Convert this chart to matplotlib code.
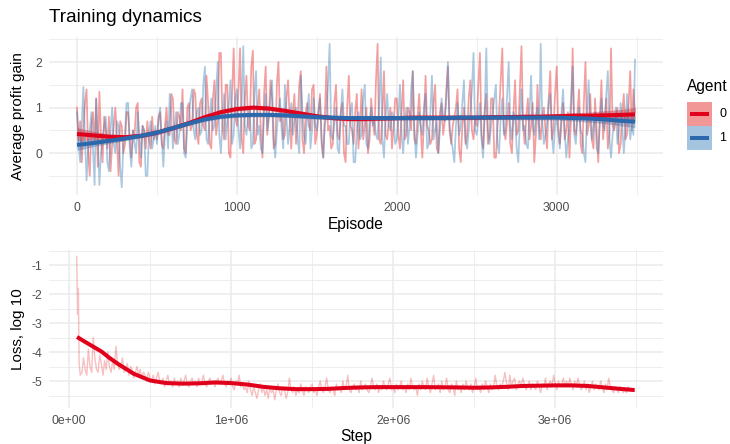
import numpy as np
import matplotlib
matplotlib.use("Agg")
import matplotlib.pyplot as plt
from matplotlib.patches import Rectangle

plt.rcParams["font.family"] = ["Liberation Sans", "DejaVu Sans"]

# ---- top panel: average profit gain, one value every 10 episodes
agent0 = [
    1.0, 0.3, 0.7, -0.2, 0.5, 1.1, 1.4, 0.0, -0.5, 0.6, 0.9, 0.2, 1.2, -0.3, 1.35, 0.4, -0.2, 0.8, 0.5, 0.1,
    0.8, -0.4, 0.2, 0.6, 1.0, 0.3, -0.5, 0.7, 0.6, 0.0, 0.2, 0.9, 0.9, 0.3, -0.1, 0.5, 0.4, 1.0, 1.1, -0.2,
    -0.3, 0.6, 0.5, 0.1, 0.7, 0.3, 0.1, 0.8, 0.3, 0.5,
    0.3, 0.8, 0.9, 0.2, 0.1, 0.6, 1.0, 0.4, 0.4, 1.3, 1.2, 0.3, 0.2, 0.9, 0.8, 0.5, 1.4, 0.1, 0.0, 1.0,
    1.1, 0.5, 0.6, 1.4, 1.3, 0.4, 0.2, 1.1, 1.2, 0.6, 0.5, 1.7, 1.1, 0.2, 0.1, 1.2, 1.6, 0.4, 0.7, 2.2,
    2.2, 0.6, 0.3, 1.5, 1.5, 0.0, -0.1, 1.3, 2.3, 0.8,
    0.6, 1.4, 2.3, 0.3, 0.0, 1.2, 1.7, 0.6, 0.5, 1.9, 2.25, 0.2, 0.3, 1.0, 1.4, 0.5, -0.1, 1.3, 1.9, 0.4,
    0.8, 1.6, 1.2, 0.1, 0.2, 1.5, 2.0, 0.7, 0.9, 0.3, 0.4, 1.2, 1.6, 0.8, 0.1, 0.9, 1.3, 0.2, 0.7, 1.5,
    1.8, 0.3, 0.0, 0.9, 1.1, 0.6, 0.5, 1.4, 1.5, 0.2,
    0.4, 0.9, 1.3, 0.2, -0.1, 0.8, 1.9, 0.5, 0.6, 0.1, 0.2, 1.1, 1.5, 0.4, 0.3, 0.9, 1.1, 0.0, -0.2, 1.0,
    1.7, 0.6, 0.5, 0.2, 0.9, 1.3, 0.1, 0.6, 1.4, 0.3, 0.6, 1.0, 0.0, 0.3, 1.2, 0.7, 0.4, 1.6, 2.4, 0.3,
    0.2, 0.9, 1.8, 0.4, 0.3, 0.7, 1.0, 0.1, 0.6, 1.2,
    1.2, 0.4, 0.1, 0.9, 1.6, 0.3, 0.4, 1.0, 0.9, 0.5, 1.8, 0.3, 0.2, 0.8, 1.3, 0.5, -0.1, 0.7, 1.7, 0.6,
    0.5, 0.2, 0.3, 1.1, 1.5, 0.1, 0.0, 0.9, 1.1, 0.4, 0.7, 1.4, 1.9, 0.5, 0.2, 0.6, 0.8, 1.0, 1.4, 0.1,
    -0.2, 0.6, 1.0, 0.2, 0.4, 1.2, 1.6, 0.5, 0.3, 0.8,
    0.6, 1.5, 2.2, 0.4, 0.1, 0.9, 1.3, 0.2, 0.4, 1.2, 1.2, -0.1, -0.1, 0.6, 0.9, 1.6, 2.3, 0.5, 0.3, 0.7,
    1.1, 0.2, 0.0, 0.9, 1.6, 0.4, 0.5, 1.4, 2.35, 0.6, 0.2, 0.8, 1.2, 0.3, 0.6, 1.1, -0.2, 0.4, 1.5, 0.6,
    0.3, 0.8, 1.0, 0.5, 0.1, 1.2, 1.8, 0.3, 0.5, 1.3,
    1.9, 0.6, 0.2, 0.7, 1.1, 0.3, 0.5, 0.9, -0.1, 0.8, 2.3, 0.5, 0.4, 0.9, 1.4, 0.2, 0.0, 1.1, 2.0, 0.4,
    0.6, 1.3, 0.3, 0.1, 1.2, 0.5, -0.2, 0.8, 1.6, 0.3, 0.7, 1.2, 0.1, 0.4, 2.3, 0.6, 0.5, 0.8, 1.0, 0.0,
    0.2, 0.9, 1.3, 0.3, 0.4, 1.1, 1.8, 0.5, 1.4, 0.9]
agent1 = [
    0.9, 0.2, -0.2, 0.6, 1.45, 0.3, -0.6, 0.1, 0.5, 0.9, 0.1, -0.7, 1.2, 0.4, -0.7, 0.0, 0.3, 0.6, 0.8, -0.2,
    -0.4, 0.5, 1.0, 0.2, 0.0, 0.7, 0.6, -0.3, -0.75, 0.2, 0.4, 1.1, 1.1, 0.1, -0.3, 0.5, 0.2, 0.0, 0.9, 0.4,
    -0.1, 0.6, 0.5, -0.5, -0.5, 0.4, 0.7, 0.1, 0.3, 0.6,
    0.2, 0.7, 1.0, 0.3, -0.3, 0.4, 0.7, 0.1, 1.3, 0.8, 0.1, 0.5, 0.9, 0.2, 0.4, 1.1, 1.1, 0.0, -0.1, 0.6,
    0.8, 1.2, 1.4, 0.5, 0.3, 0.9, 1.0, 0.4, 0.5, 1.5, 1.9, 0.3, 0.2, 0.8, 1.2, 0.5, 0.6, 1.3, 2.0, 0.4,
    0.0, 0.7, 1.3, 0.3, 0.7, 1.1, 1.6, 0.2, 0.4, 1.2,
    1.4, 0.5, 0.1, 1.1, 2.35, 0.6, 0.4, 0.8, 1.0, 0.1, 0.2, 1.3, 1.8, 0.4, 0.6, 0.1, 0.0, 0.9, 1.3, 0.5,
    0.8, 1.2, 1.6, 0.3, -0.1, 0.5, 0.9, 1.2, 0.5, 0.1, 1.5, 0.8, 0.2, 0.6, 1.1, 0.4, 0.7, 1.0, 0.3, 0.0,
    1.7, 0.9, 0.4, 0.2, 0.9, 1.3, 0.1, 0.5, 1.2, 0.6,
    0.5, 0.9, 1.2, 0.3, -0.1, 0.6, 0.8, 1.5, 2.4, 0.4, 0.3, 0.7, 1.0, 0.1, 0.0, 0.9, 1.4, 0.6, 0.6, 0.2,
    0.2, 0.9, 1.1, -0.2, -0.2, 0.5, 0.9, 0.3, 0.4, 1.2, 1.5, 0.2, 0.1, 0.7, 1.0, 0.6, 0.7, 0.4, 0.3, 1.1,
    2.1, 0.3, -0.1, 0.8, 1.3, 0.6, 0.5, 0.9, 0.8, 0.2,
    0.3, 0.8, 1.5, 0.4, 0.0, 0.6, 1.0, 0.2, 0.6, 1.4, 1.8, 0.5, -0.1, 0.4, 0.9, 0.6, 0.4, 1.0, 1.3, 0.1,
    0.2, 0.9, 1.7, 0.3, 0.5, 0.7, 0.0, 0.5, 1.2, 0.8, 0.7, 1.2, 2.0, 0.6, 0.3, 0.1, -0.2, 0.6, 1.1, 0.4,
    0.6, 1.1, 1.6, 0.3, 0.1, 0.5, 0.9, 1.4, 2.2, 0.5,
    0.4, 0.7, 1.1, 0.3, -0.1, 0.9, 2.3, 0.5, 0.2, 0.6, 0.9, 1.2, 1.5, 0.2, 0.0, 0.8, 1.2, 0.4, 0.5, 1.3,
    2.0, 0.6, 0.3, 0.9, 0.8, 0.1, -0.2, 0.7, 1.4, 0.5, 0.6, 0.2, 0.1, 0.9, 1.7, 0.6, 0.4, 0.8, 1.0, 0.3,
    2.4, 0.7, 0.2, 0.4, 0.7, 1.1, 1.3, 0.4, 0.0, 0.6,
    0.8, 0.4, 0.1, 0.9, 1.4, 0.5, -0.1, 0.3, 0.6, 1.2, 1.9, 0.4, 0.2, 0.8, 1.0, 0.5, 0.4, 0.0, -0.2, 0.9,
    1.6, 0.7, 0.3, 0.6, 0.9, 0.1, 0.0, 0.7, 1.2, 0.6, 0.5, 1.3, 1.8, 0.3, -0.1, 0.4, 0.7, 1.0, 0.2, 0.5,
    1.1, 0.6, 0.0, 0.5, 1.3, 0.8, 0.3, 0.6, 0.4, 2.05]
episodes = 10 * np.arange(len(agent0))

# smoothed trend and half width of its band
smooth_ep = list(range(0, 3500, 100)) + [3490]
smooth0 = [0.42, 0.39, 0.36, 0.35, 0.38, 0.45, 0.55, 0.66, 0.79, 0.90, 0.97, 1.00, 0.98, 0.93, 0.87, 0.81, 0.77, 0.75,
           0.75, 0.76, 0.77, 0.78, 0.78, 0.78, 0.78, 0.78, 0.79, 0.79, 0.80, 0.80, 0.81, 0.82, 0.82, 0.83, 0.84, 0.85]
smooth1 = [0.18, 0.22, 0.27, 0.32, 0.38, 0.45, 0.55, 0.65, 0.74, 0.80, 0.83, 0.84, 0.84, 0.83, 0.81, 0.79, 0.78, 0.77,
           0.77, 0.77, 0.77, 0.77, 0.77, 0.77, 0.78, 0.78, 0.78, 0.78, 0.78, 0.78, 0.78, 0.77, 0.76, 0.74, 0.71, 0.69]
se0 = [0.14, 0.09, 0.06, 0.05, 0.045, 0.045, 0.045, 0.045, 0.045, 0.045, 0.045, 0.045, 0.045, 0.045, 0.045, 0.045, 0.045, 0.045,
       0.045, 0.045, 0.045, 0.045, 0.045, 0.045, 0.045, 0.045, 0.045, 0.045, 0.05, 0.05, 0.055, 0.065, 0.08, 0.1, 0.12, 0.15]
se1 = [0.12, 0.08, 0.06, 0.05, 0.045, 0.045, 0.045, 0.045, 0.045, 0.045, 0.045, 0.045, 0.045, 0.045, 0.045, 0.045, 0.045, 0.045,
       0.045, 0.045, 0.045, 0.045, 0.045, 0.045, 0.045, 0.045, 0.045, 0.045, 0.05, 0.05, 0.055, 0.065, 0.08, 0.09, 0.11, 0.13]

# ---- bottom panel: log10 loss (first few logged every 5000 steps, then every 10000)
loss_head = [-0.7, -2.7, -1.8, -4.4]
loss_tail = [
    -4.8, -4.7, -4.2, -4.6, -4.8, -3.9, -4.5, -4.7, -3.5, -4.2, -4.6, -4.7, -4.1, -4.4, -4.8, -4.3, -4.6, -4.0, -4.5, -4.7,
    -4.3, -4.6, -3.8, -4.4, -4.6, -4.5, -4.2, -4.7, -4.6, -4.4, -4.8, -4.5, -4.6, -4.9, -4.7, -4.5, -4.8, -4.6, -4.9, -4.7,
    -4.8, -5.0, -4.7, -4.9, -5.0, -4.8, -5.1, -4.9, -4.7, -5.0, -5.1, -4.9, -5.2, -5.0, -4.8, -5.1, -5.0, -5.2, -4.9, -5.1,
    -5.0, -5.2, -4.9, -5.1, -5.0, -4.8, -5.1, -5.2, -5.0, -4.9, -5.1, -5.0, -5.2, -4.9, -5.1, -5.0, -4.8, -5.1, -5.2, -5.0,
    -4.9, -5.1, -5.0, -5.2, -5.0, -4.9, -5.1, -5.0, -4.8, -5.1, -5.2, -5.0, -5.1, -4.9, -5.2, -5.3, -5.0, -5.1, -4.8, -5.2,
    -5.1, -5.3, -5.2, -5.4, -5.0, -5.3, -5.5, -5.2, -5.4, -5.6, -5.3, -5.1, -5.4, -5.2, -5.5, -5.3, -5.6, -5.2, -5.4, -5.3,
    -5.65, -5.3, -5.1, -5.4, -5.5, -5.2, -5.3, -5.6, -5.4, -4.9, -5.3, -5.4, -5.2, -5.5, -5.3, -5.4, -5.1, -5.3, -5.5, -5.2,
    -5.3, -5.4, -5.2, -5.1, -5.4, -5.3, -5.5, -5.2, -5.0, -5.3, -5.4, -5.2, -4.9, -5.3, -5.4, -5.2, -5.3, -5.5, -5.1, -5.3,
    -5.2, -5.4, -5.0, -5.3, -5.2, -4.8, -5.3, -5.4, -5.2, -5.1, -5.3, -5.2, -5.4, -5.0, -5.3, -5.2, -5.1, -5.3, -5.4, -5.2,
    -4.9, -5.2, -5.3, -5.1, -5.4, -5.2, -5.3, -5.0, -5.2, -5.3, -5.1, -4.9, -5.3, -5.2, -5.4, -5.1, -5.3, -5.2, -5.0, -5.3,
    -5.2, -5.4, -5.1, -5.3, -4.9, -5.2, -5.3, -5.2, -5.5, -5.1, -5.3, -5.0, -5.2, -5.3, -4.9, -5.2, -5.4, -5.1, -4.8, -5.3,
    -5.2, -5.1, -5.4, -5.0, -5.3, -5.2, -4.9, -5.3, -5.4, -5.1, -5.2, -5.5, -5.0, -5.3, -5.2, -5.4, -5.1, -5.3, -5.0, -5.2,
    -5.3, -5.1, -5.4, -5.2, -4.9, -5.3, -5.2, -5.4, -5.1, -5.3, -5.0, -5.2, -5.4, -5.1, -5.3, -5.2, -4.8, -5.2, -5.3, -5.1,
    -5.2, -5.0, -4.7, -5.1, -5.3, -4.8, -5.2, -5.0, -4.9, -5.3, -5.1, -5.0, -5.2, -4.9, -5.1, -5.3, -5.2, -5.0, -5.3, -5.1,
    -5.2, -5.3, -5.0, -5.2, -5.4, -5.1, -5.2, -4.9, -5.3, -5.1, -5.0, -5.2, -4.8, -5.1, -5.3, -5.0, -5.2, -5.1, -4.9, -5.2,
    -5.0, -5.2, -4.9, -5.1, -5.3, -5.0, -5.2, -4.9, -5.1, -5.3, -5.2, -5.0, -5.3, -5.1, -5.4, -5.2, -5.0, -5.3, -5.1, -5.2,
    -5.3, -5.0, -5.2, -5.4, -5.1, -5.3, -4.9, -5.2, -5.3, -5.4, -5.2, -5.3, -5.4, -5.2, -5.3, -5.4, -5.3, -5.4, -5.2, -5.3,
    -5.35, -5.3, -5.35]
loss_step = np.r_[48000 + 5000 * np.arange(len(loss_head)),
                  70000 + 10000 * np.arange(len(loss_tail))]
loss = loss_head + loss_tail

loss_smooth_step = [50000, 100000, 200000, 250000, 300000, 400000, 500000, 600000, 700000, 800000, 900000, 1000000,
                    1100000, 1200000, 1300000, 1400000, 1500000, 1600000, 1700000, 1800000, 1900000, 2000000,
                    2200000, 2400000, 2500000, 2600000, 2700000, 2800000, 2900000, 3000000, 3100000, 3200000,
                    3300000, 3400000, 3490000]
loss_smooth = [-3.48, -3.65, -3.98, -4.2, -4.4, -4.75, -4.98, -5.07, -5.09, -5.08, -5.05, -5.07,
               -5.12, -5.2, -5.25, -5.28, -5.28, -5.27, -5.24, -5.22, -5.21, -5.21,
               -5.21, -5.22, -5.23, -5.22, -5.2, -5.17, -5.16, -5.15, -5.15, -5.17,
               -5.22, -5.27, -5.31]

agents = ["0", "1"]
red = "#E41A1C"
blue = "#377EB8"
red_line = "#E0001B"
blue_line = "#2C68AC"
grid_col = "#EBEBEB"
tick_col = "#4D4D4D"


def style(ax):
    ax.set_facecolor("white")
    for s in ax.spines.values():
        s.set_visible(False)
    ax.grid(True, which="major", color=grid_col, lw=1.1)
    ax.grid(True, which="minor", color=grid_col, lw=0.6)
    ax.set_axisbelow(True)
    ax.tick_params(which="both", length=0, labelsize=8.8, labelcolor=tick_col, pad=5)


fig = plt.figure(figsize=(7.3, 4.44), dpi=100)

# top
ax1 = fig.add_axes([49 / 730, 1 - 195 / 444, 614 / 730, 158 / 444])
style(ax1)
ax1.plot(episodes, agent0, color=red, alpha=0.42, lw=1.25)
ax1.plot(episodes, agent1, color=blue, alpha=0.42, lw=1.25)
for sm, se, fc, lc in [(smooth0, se0, red, red_line), (smooth1, se1, blue, blue_line)]:
    sm = np.array(sm)
    se = np.array(se)
    ax1.fill_between(smooth_ep, sm - se, sm + se, color=fc, alpha=0.4, lw=0)
    ax1.plot(smooth_ep, sm, color=lc, lw=2.9, solid_capstyle="butt")
ax1.set_xlim(-175, 3665)
ax1.set_ylim(-0.92, 2.55)
ax1.set_xticks([0, 1000, 2000, 3000])
ax1.set_xticks([500, 1500, 2500, 3500], minor=True)
ax1.set_yticks([0, 1, 2])
ax1.set_yticklabels(["0", "1", "2"])
ax1.set_yticks([-0.5, 0.5, 1.5, 2.5], minor=True)

# bottom
ax2 = fig.add_axes([49 / 730, 1 - 408 / 444, 614 / 730, 158 / 444])
style(ax2)
ax2.plot(loss_step, loss, color=red, alpha=0.28, lw=1.0)
ax2.plot(loss_smooth_step, loss_smooth, color=red_line, lw=2.9, solid_capstyle="butt")
ax2.set_xlim(-123000, 3665000)
ax2.set_ylim(-5.93, -0.48)
ax2.set_xticks([0, 1e6, 2e6, 3e6])
ax2.set_xticklabels(["0e+00", "1e+06", "2e+06", "3e+06"])
ax2.set_xticks([0.5e6, 1.5e6, 2.5e6, 3.5e6], minor=True)
ax2.set_yticks([-1, -2, -3, -4, -5])
ax2.set_yticklabels(["-1", "-2", "-3", "-4", "-5"])
ax2.set_yticks([-1.5, -2.5, -3.5, -4.5, -5.5, -0.5], minor=True)

# labels
fig.text(49 / 730, 1 - 17 / 444, "Training dynamics", fontsize=13.7, ha="left", va="center")
fig.text(356 / 730, 1 - 224 / 444, "Episode", fontsize=11.2, ha="center", va="center")
fig.text(356 / 730, 1 - 436 / 444, "Step", fontsize=11.2, ha="center", va="center")
fig.text(18 / 730, 1 - 116 / 444, "Average profit gain", fontsize=11.0, rotation=90, ha="center", va="center")
fig.text(18 / 730, 1 - 329 / 444, "Loss, log 10", fontsize=11.0, rotation=90, ha="center", va="center")

# legend
lax = fig.add_axes([687 / 730, 1 - 150 / 444, 25 / 730, 48 / 444])
lax.set_xlim(0, 1)
lax.set_ylim(0, 2)
lax.axis("off")
for i, (fc, lc) in enumerate([(red, red_line), (blue, blue_line)]):
    yb = 1 - i
    lax.add_patch(Rectangle((0, yb), 1, 1, facecolor=fc, alpha=0.45, lw=0))
    lax.plot([0.12, 0.88], [yb + 0.5, yb + 0.5], color=lc, lw=2.9, solid_capstyle="butt")
    fig.text(719 / 730, 1 - (114 + 24 * i) / 444, agents[i], fontsize=9, ha="left", va="center")
fig.text(687 / 730, 1 - 87 / 444, "Agent", fontsize=11.2, ha="left", va="center")

fig.savefig("out.png", dpi=100)
